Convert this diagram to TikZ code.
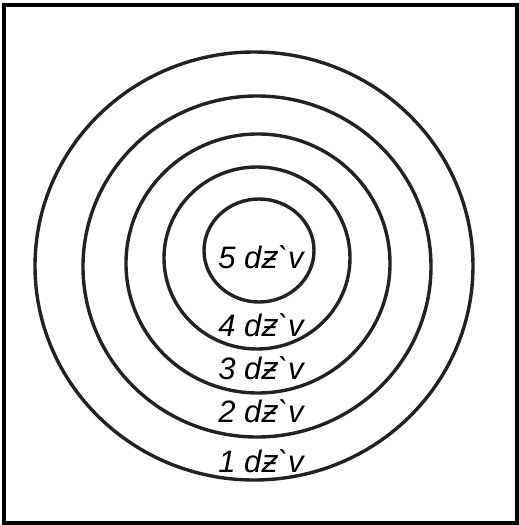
\documentclass[tikz,border=0pt]{standalone}
\usepackage{fontspec}
\setmainfont{Liberation Sans}
\newfontfamily\dvfont{DejaVu Sans}
\usepackage{xcolor}
\definecolor{ringgray}{HTML}{222222}
\newcommand{\scorelabel}[1]{#1 d{\dvfont\itshape ƶ}\textasciigrave v}

\begin{document}
\begin{tikzpicture}[
      x=1pt, y=-1pt,
      every node/.style={font=\itshape\fontsize{31}{31}\selectfont, inner sep=0pt},
      ring/.style={draw=ringgray, line width=3.4pt},
    ]
    \useasboundingbox (0,0) rectangle (519,525);
    \draw[line width=4.6pt] (4,5) rectangle (517,523);

    % rings, outer to inner
    \draw[ring] (254,266) ellipse [x radius=219, y radius=214];
    \draw[ring] (257,266.5) ellipse [x radius=174, y radius=170.5];
    \draw[ring] (258,263.5) ellipse [x radius=132, y radius=129.5];
    \draw[ring] (257,258) ellipse [x radius=93, y radius=91];
    \draw[ring] (259,250.5) ellipse [x radius=55, y radius=51.5];

    \node (s5) at (261,257) {\scorelabel{5}};
    \node (s4) at (261,325) {\scorelabel{4}};
    \node (s3) at (261,368) {\scorelabel{3}};
    \node (s2) at (261,411) {\scorelabel{2}};
    \node (s1) at (261,461) {\scorelabel{1}};
  \end{tikzpicture}
\end{document}
